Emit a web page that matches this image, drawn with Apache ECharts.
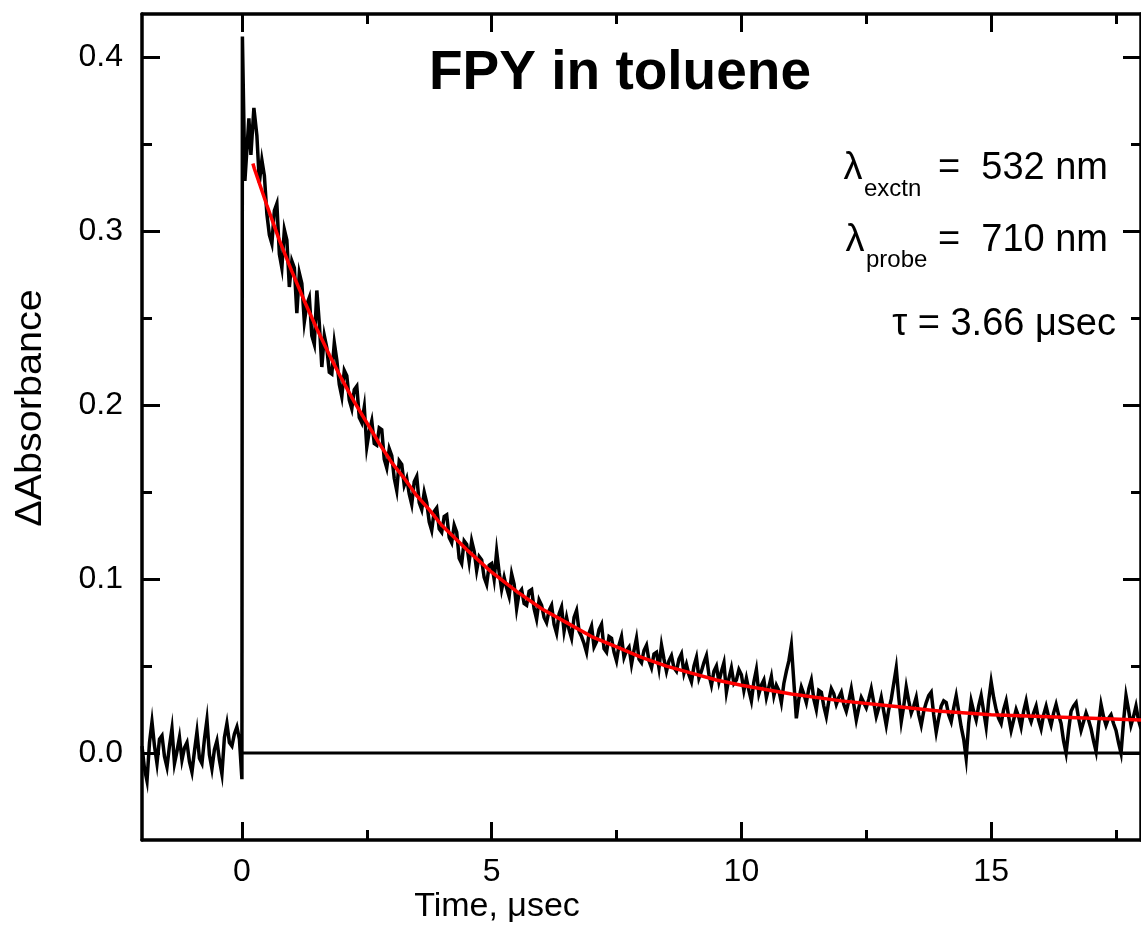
<!DOCTYPE html>
<html>
<head>
<meta charset="utf-8">
<script src="https://cdn.jsdelivr.net/npm/echarts@6/dist/echarts.min.js"></script>
<style>
  html, body { margin: 0; padding: 0; background: #fff; }
  #main { width: 1141px; height: 936px; }
</style>
</head>
<body>
<div id="main"></div>
<script>
// pre-trigger baseline, t = -2.0 .. -0.1 step 0.1, plus the half-step samples in between
var baseT0 = -2.0, baseStep = 0.1;
var baseY = [0.004, -0.016, 0.018, -0.006, 0.010, -0.008, 0.014, 0.001, -0.004, 0.006,
  -0.011, 0.012, -0.006, 0.019, -0.009, 0.007, -0.012, 0.017, 0.004, 0.015];
var baseMidY = [-0.009, 0.006, 0.004, 0.008, -0.002, 0.004, -0.006, 0.009, 0.003, -0.005,
  0.001, -0.003, 0.008, -0.001, 0.002, -0.004, 0.009, 0.006, 0.011, 0.008];

// laser pulse rise
var riseT = [0, 0.01, 0.06, 0.14, 0.18, 0.24];
var riseY = [-0.015, 0.412, 0.329, 0.365, 0.344, 0.371];

// decay, t = 0.3 .. 18.0 step 0.1
var decayT0 = 0.3, decayStep = 0.1;
var decayY = [
  0.355, 0.341, 0.310, 0.293, 0.316, 0.279, 0.295, 0.283, 0.253, 0.270, 0.258, 0.240, 0.266, 0.222, 0.233, 0.218, 0.226, 0.205,
  0.217, 0.198, 0.211, 0.190, 0.176, 0.191, 0.177, 0.186, 0.164, 0.171, 0.151, 0.166, 0.158, 0.143, 0.159, 0.140, 0.144, 0.128, 0.141, 0.127,
  0.137, 0.121, 0.127, 0.109, 0.120, 0.122, 0.105, 0.111, 0.097, 0.109, 0.116, 0.094, 0.095, 0.103, 0.083, 0.094, 0.085, 0.094, 0.077, 0.085,
  0.075, 0.085, 0.069, 0.084, 0.078, 0.066, 0.082, 0.067, 0.058, 0.073, 0.064, 0.074, 0.058, 0.066, 0.053, 0.067, 0.059, 0.051, 0.066, 0.052,
  0.062, 0.049, 0.058, 0.062, 0.047, 0.056, 0.047, 0.057, 0.051, 0.041, 0.055, 0.047, 0.056, 0.039, 0.050, 0.047, 0.035, 0.049, 0.042, 0.045,
  0.043, 0.030, 0.048, 0.039, 0.032, 0.044, 0.039, 0.029, 0.047, 0.062, 0.020, 0.038, 0.029, 0.042, 0.025, 0.035, 0.021, 0.037, 0.028, 0.035,
  0.024, 0.037, 0.019, 0.032, 0.026, 0.037, 0.021, 0.032, 0.016, 0.031, 0.049, 0.018, 0.038, 0.023, 0.032, 0.016, 0.029, 0.035, 0.012, 0.027,
  0.029, 0.018, 0.033, 0.015, -0.003, 0.030, 0.019, 0.033, 0.015, 0.041, 0.025, 0.017, 0.030, 0.013, 0.025, 0.015, 0.030, 0.018, 0.027, 0.014,
  0.027, 0.016, 0.028, 0.017, 0.000, 0.024, 0.029, 0.013, 0.023, 0.014, 0.001, 0.028, 0.016, 0.022, 0.013, 0.000, 0.033, 0.016, 0.027, 0.014
];
// half-step samples, t = 0.35 .. 17.95
var decayMidY = [
  0.328, 0.332, 0.298, 0.312, 0.287, 0.301, 0.268, 0.279, 0.276, 0.248, 0.262, 0.235, 0.247, 0.240, 0.219, 0.236, 0.212, 0.220,
  0.203, 0.209, 0.193, 0.199, 0.185, 0.178, 0.187, 0.169, 0.175, 0.158, 0.168, 0.154, 0.149, 0.156, 0.144, 0.150, 0.133, 0.139, 0.129, 0.136,
  0.124, 0.131, 0.112, 0.122, 0.110, 0.116, 0.113, 0.101, 0.108, 0.100, 0.104, 0.101, 0.090, 0.097, 0.092, 0.086, 0.093, 0.083, 0.088, 0.078,
  0.082, 0.074, 0.080, 0.070, 0.071, 0.078, 0.070, 0.063, 0.069, 0.061, 0.071, 0.060, 0.067, 0.058, 0.062, 0.055, 0.061, 0.059, 0.054, 0.059,
  0.053, 0.057, 0.049, 0.054, 0.053, 0.049, 0.054, 0.046, 0.045, 0.050, 0.043, 0.052, 0.045, 0.047, 0.041, 0.052, 0.043, 0.040, 0.048, 0.036,
  0.036, 0.041, 0.034, 0.042, 0.038, 0.033, 0.036, 0.040, 0.053, 0.041, 0.031, 0.034, 0.037, 0.031, 0.036, 0.027, 0.030, 0.034, 0.032, 0.028,
  0.030, 0.028, 0.026, 0.029, 0.031, 0.029, 0.026, 0.024, 0.025, 0.040, 0.032, 0.027, 0.030, 0.027, 0.022, 0.024, 0.033, 0.022, 0.020, 0.030,
  0.022, 0.026, 0.024, 0.008, 0.017, 0.024, 0.027, 0.024, 0.030, 0.032, 0.020, 0.025, 0.021, 0.019, 0.021, 0.024, 0.022, 0.023, 0.019, 0.022,
  0.021, 0.023, 0.022, 0.007, 0.013, 0.027, 0.020, 0.018, 0.019, 0.007, 0.016, 0.021, 0.020, 0.017, 0.006, 0.018, 0.025, 0.021, 0.019
];

// exponential fit
var fitT = [0.22, 0.25, 0.5, 0.75, 1, 1.25, 1.5, 1.75, 2, 2.25, 2.5, 2.75, 3, 3.25, 3.5, 3.75, 4, 4.5, 5, 5.5, 6, 6.5,
  7, 7.5, 8, 8.5, 9, 9.5, 10, 11, 12, 13, 14, 15, 16, 17, 18];
var fitY = [0.339, 0.336, 0.315, 0.295, 0.277, 0.260, 0.244, 0.229, 0.215, 0.202, 0.190, 0.178, 0.167, 0.158, 0.148, 0.140,
  0.131, 0.117, 0.104, 0.093, 0.083, 0.075, 0.067, 0.061, 0.055, 0.050, 0.046, 0.042, 0.039, 0.034, 0.030, 0.027, 0.024,
  0.022, 0.021, 0.020, 0.019];

// zero line after trigger
var zeroT = [0, 18];
var zeroY = [0, 0];

// ticks
var xMajor = [0, 5, 10, 15];
var xMinor = [2.5, 7.5, 12.5, 17.5];
var yMajor = [0, 0.1, 0.2, 0.3, 0.4];
var yMinor = [0.05, 0.15, 0.25, 0.35];

var FONT = 'Liberation Sans';

var trace = [];
baseY.forEach(function (v, i) {
  var t = baseT0 + i * baseStep;
  trace.push([+t.toFixed(3), v]);
  trace.push([+(t + baseStep / 2).toFixed(3), baseMidY[i]]);
});
riseY.forEach(function (v, i) { trace.push([riseT[i], v]); });
decayY.forEach(function (v, i) {
  var t = decayT0 + i * decayStep;
  trace.push([+t.toFixed(3), v]);
  if (i < decayMidY.length) trace.push([+(t + decayStep / 2).toFixed(3), decayMidY[i]]);
});

var fit = fitT.map(function (t, i) { return [t, fitY[i]]; });
var zero = zeroT.map(function (t, i) { return [t, zeroY[i]]; });

function xAx(pos, ticks, len, line, labels) {
  return {
    type: 'value', min: -2, max: 18, position: pos, offset: 0,
    axisLine: { show: line, onZero: false, lineStyle: { color: '#000', width: 3.5 } },
    axisTick: { show: true, inside: true, length: len, customValues: ticks, lineStyle: { color: '#000', width: 3 } },
    axisLabel: labels ? {
      show: true, customValues: ticks, margin: 16, color: '#000', fontSize: 32, fontFamily: FONT
    } : { show: false },
    splitLine: { show: false }
  };
}
function yAx(pos, ticks, len, line, labels) {
  return {
    type: 'value', min: -0.05, max: 0.425, position: pos, offset: 0,
    axisLine: { show: line, onZero: false, lineStyle: { color: '#000', width: 3.5 } },
    axisTick: { show: true, inside: true, length: len, customValues: ticks, lineStyle: { color: '#000', width: 3 } },
    axisLabel: labels ? {
      show: true, customValues: ticks, margin: 19, color: '#000', fontSize: 32, fontFamily: FONT,
      formatter: function (v) { return v.toFixed(1); }
    } : { show: false },
    splitLine: { show: false }
  };
}

var myChart = echarts.init(document.getElementById('main'));
var option = {
  animation: false,
  backgroundColor: '#fff',
  grid: { left: 142, top: 14, right: -8, bottom: 96 },
  xAxis: [
    xAx('bottom', xMajor, 18, true, true),
    xAx('bottom', xMinor, 10, false, false),
    xAx('top', xMajor, 18, true, false),
    xAx('top', xMinor, 10, false, false)
  ],
  yAxis: [
    yAx('left', yMajor, 18, true, true),
    yAx('left', yMinor, 10, false, false),
    yAx('right', yMajor, 18, true, false),
    yAx('right', yMinor, 10, false, false)
  ],
  graphic: [
    { type: 'text', x: 620, y: 74, style: { text: 'FPY in toluene', font: 'bold 55px "Liberation Sans"', fill: '#000', align: 'center', verticalAlign: 'middle' } },
    // λexctn line
    { type: 'text', x: 853, y: 169, style: { text: 'λ', font: '38px "Liberation Sans"', fill: '#000', align: 'center', verticalAlign: 'middle' } },
    { type: 'text', x: 864, y: 189, style: { text: 'exctn', font: '24px "Liberation Sans"', fill: '#000', align: 'left', verticalAlign: 'middle' } },
    { type: 'text', x: 1108, y: 169, style: { text: '=  532 nm', font: '38px "Liberation Sans"', fill: '#000', align: 'right', verticalAlign: 'middle' } },
    // λprobe line
    { type: 'text', x: 855, y: 241, style: { text: 'λ', font: '38px "Liberation Sans"', fill: '#000', align: 'center', verticalAlign: 'middle' } },
    { type: 'text', x: 866, y: 260, style: { text: 'probe', font: '24px "Liberation Sans"', fill: '#000', align: 'left', verticalAlign: 'middle' } },
    { type: 'text', x: 1108, y: 241, style: { text: '=  710 nm', font: '38px "Liberation Sans"', fill: '#000', align: 'right', verticalAlign: 'middle' } },
    // tau
    { type: 'text', x: 1116, y: 325, style: { text: 'τ = 3.66 μsec', font: '38px "Liberation Sans"', fill: '#000', align: 'right', verticalAlign: 'middle' } },
    // axis names
    { type: 'text', x: 31, y: 408, rotation: Math.PI / 2, scaleX: 1.07, style: { text: 'ΔAbsorbance', font: '37px "Liberation Sans"', fill: '#000', align: 'center', verticalAlign: 'middle' } },
    { type: 'text', x: 497, y: 907, style: { text: 'Time, μsec', font: '34px "Liberation Sans"', fill: '#000', align: 'center', verticalAlign: 'middle' } }
  ],
  series: [
    {
      name: 'zero', type: 'line', data: zero, showSymbol: false, symbol: 'none',
      lineStyle: { color: '#000', width: 3 }
    },
    {
      name: 'trace', type: 'line', data: trace, showSymbol: false, symbol: 'none',
      lineStyle: { color: '#000', width: 3.5, join: 'miter' }
    },
    {
      name: 'fit', type: 'line', data: fit, showSymbol: false, symbol: 'none',
      lineStyle: { color: '#ff0000', width: 3.5 }
    }
  ]
};
myChart.setOption(option);
</script>
</body>
</html>
